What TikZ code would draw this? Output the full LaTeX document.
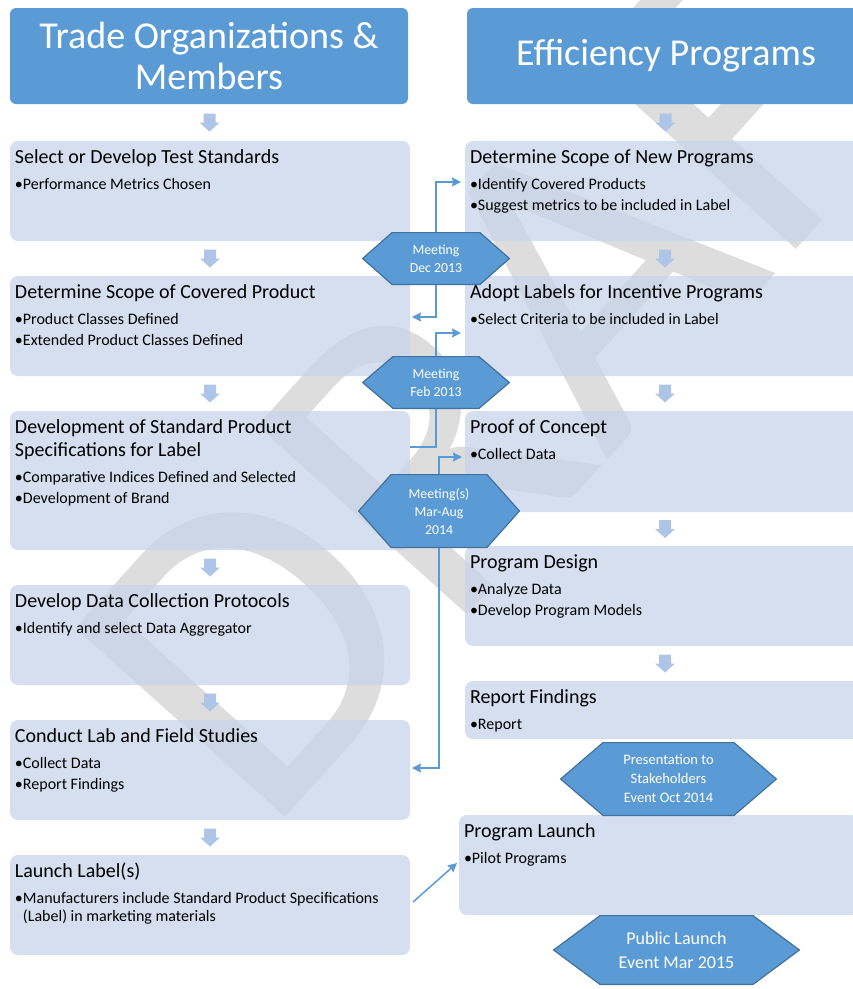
\documentclass[tikz,border=0pt]{standalone}
\usepackage{fontspec}
\setmainfont{Carlito}
\usetikzlibrary{positioning,arrows.meta,calc}

\definecolor{headblue}{HTML}{5B9BD5}
\definecolor{hexedge}{HTML}{41719C}
\definecolor{boxfill}{RGB}{199,212,234}
\definecolor{arrowfill}{HTML}{AFC5E8}
\definecolor{draftgray}{HTML}{DDDDDD}

\newcommand{\titlefont}{\fontsize{20}{23}\selectfont}
\newcommand{\itemfont}{\fontsize{16}{18}\selectfont}
\newcommand{\bitem}[1]{\par\vspace{3pt}\hangindent=8pt\hangafter=1\noindent•#1}
\newcommand{\steptext}[3]{\parbox[t][#1][t]{390pt}{\raggedright\titlefont\rule{0pt}{18.5pt}#2\par\vspace{5pt}\itemfont #3}}

\tikzset{
  headbox/.style={fill=headblue, rounded corners=6pt, text=white, align=center,
    font=\fontsize{38}{41}\selectfont, minimum width=398pt, minimum height=96pt},
  stepbox/.style={fill=boxfill, fill opacity=0.75, text opacity=1, rounded corners=8pt,
    inner xsep=5pt, inner ysep=4pt, outer sep=0pt},
  event/.style n args={3}{minimum width=#1, minimum height=#2, inner sep=0pt, draw=none,
    align=center, text=white,
    path picture={\filldraw[fill=headblue, draw=hexedge, line width=1.2pt]
      ([xshift=0.6pt]path picture bounding box.west)
      -- ([xshift=#3,yshift=-0.6pt]path picture bounding box.north west)
      -- ([xshift=-#3,yshift=-0.6pt]path picture bounding box.north east)
      -- ([xshift=-0.6pt]path picture bounding box.east)
      -- ([xshift=-#3,yshift=0.6pt]path picture bounding box.south east)
      -- ([xshift=#3,yshift=0.6pt]path picture bounding box.south west) -- cycle;}},
  link/.style={draw=headblue, line width=1.5pt, -{Stealth[length=9pt,width=9pt,inset=1pt]}},
  linkplain/.style={draw=headblue, line width=1.5pt},
  draftmark/.style={anchor=base west, rotate=48, text=draftgray, inner sep=0pt,
    font=\fontsize{440}{440}\selectfont},
  flowarrow/.pic={\fill[arrowfill] (-6,-9) -- (6,-9) -- (6,0) -- (10,0) -- (0,9) -- (-10,0) -- (-6,0) -- cycle;}
}

\begin{document}
\begin{tikzpicture}[x=1pt,y=-1pt,node distance=35pt]
\useasboundingbox (0,0) rectangle (853,989);
\clip (0,0) rectangle (853,989);

% watermark
\node[draftmark] (draft) at (265,840) {DRAFT};

% column heads
\node[headbox] (tradehd) at (209,56) {Trade Organizations \&\\Members};
\node[headbox] (effhd) at (666,56) {Efficiency Programs};

% trade organizations column
\node[stepbox, anchor=north] (s1) at (210,141)
  {\steptext{92pt}{Select or Develop Test Standards}{\bitem{Performance Metrics Chosen}}};
\node[stepbox] (s2) [below=of s1]
  {\steptext{92pt}{Determine Scope of Covered Product}{\bitem{Product Classes Defined}\bitem{Extended Product Classes Defined}}};
\node[stepbox] (s3) [below=of s2]
  {\steptext{131pt}{Development of Standard Product\\Specifications for Label}{\bitem{Comparative Indices Defined and Selected}\bitem{Development of Brand}}};
\node[stepbox] (s4) [below=of s3]
  {\steptext{92pt}{Develop Data Collection Protocols}{\bitem{Identify and select Data Aggregator}}};
\node[stepbox] (s5) [below=of s4]
  {\steptext{92pt}{Conduct Lab and Field Studies}{\bitem{Collect Data}\bitem{Report Findings}}};
\node[stepbox] (s6) [below=of s5]
  {\steptext{92pt}{Launch Label(s)}{\bitem{Manufacturers include Standard Product Specifications\newline (Label) in marketing materials}}};

% efficiency programs column
\node[stepbox, anchor=north] (r1) at (665,141)
  {\steptext{92pt}{Determine Scope of New Programs}{\bitem{Identify Covered Products}\bitem{Suggest metrics to be included in Label}}};
\node[stepbox] (r2) [below=of r1]
  {\steptext{92pt}{Adopt Labels for Incentive Programs}{\bitem{Select Criteria to be included in Label}}};
\node[stepbox] (r3) [below=of r2]
  {\steptext{93pt}{Proof of Concept}{\bitem{Collect Data}}};
\node[stepbox] (r4) [below=34pt of r3]
  {\steptext{92pt}{Program Design}{\bitem{Analyze Data}\bitem{Develop Program Models}}};
\node[stepbox] (r5) [below=of r4]
  {\steptext{50pt}{Report Findings}{\bitem{Report}}};
\node[stepbox] (r6) [below=76pt of r5, xshift=-6pt]
  {\steptext{92pt}{Program Launch}{\bitem{Pilot Programs}}};

% step arrows
\foreach \u/\v in {tradehd/s1, s1/s2, s2/s3, s3/s4, s4/s5, s5/s6,
                   effhd/r1, r1/r2, r2/r3, r3/r4, r4/r5}
  \pic at ($(\u.south)!0.5!(\v.north)$) {flowarrow};

% meetings and events
\node[event={148pt}{53pt}{30pt}, font=\fontsize{13.8}{18}\selectfont] (dec) at (436,258.5) {Meeting\\Dec 2013};
\node[event={148pt}{53pt}{31pt}, font=\fontsize{13.8}{18}\selectfont] (feb) at (436,382.5) {Meeting\\Feb 2013};
\node[event={162pt}{74pt}{33pt}, font=\fontsize{13.8}{18}\selectfont] (mar) at (439,511) {Meeting(s)\\Mar-Aug\\2014};
\node[event={217pt}{74pt}{43pt}, font=\fontsize{14.5}{19}\selectfont] (pres) at (668.5,779) {Presentation to\\Stakeholders\\Event Oct 2014};
\node[event={247pt}{70pt}{47pt}, font=\fontsize{18}{24}\selectfont] (pub) at (676.5,950) {Public Launch\\Event Mar 2015};

% links
\draw[link] (dec.north) |- ([xshift=-4pt,yshift=9pt]r1.west);
\draw[link] (dec.south) |- ([xshift=2pt,yshift=9pt]s2.east);
\draw[link] (feb.north) |- ([xshift=-4pt,yshift=-7pt]r2.west);
\draw[linkplain] (feb.south) |- ([yshift=33.5pt]s3.east);
\draw[link] (mar.north) |- ([xshift=-3pt,yshift=4.5pt]r3.west);
\draw[link] (mar.south) |- ([xshift=2pt,yshift=2pt]s5.east);
\draw[link] ([xshift=3pt,yshift=3pt]s6.east) -- ([xshift=-2pt,yshift=2pt]r6.west);
\end{tikzpicture}
\end{document}
